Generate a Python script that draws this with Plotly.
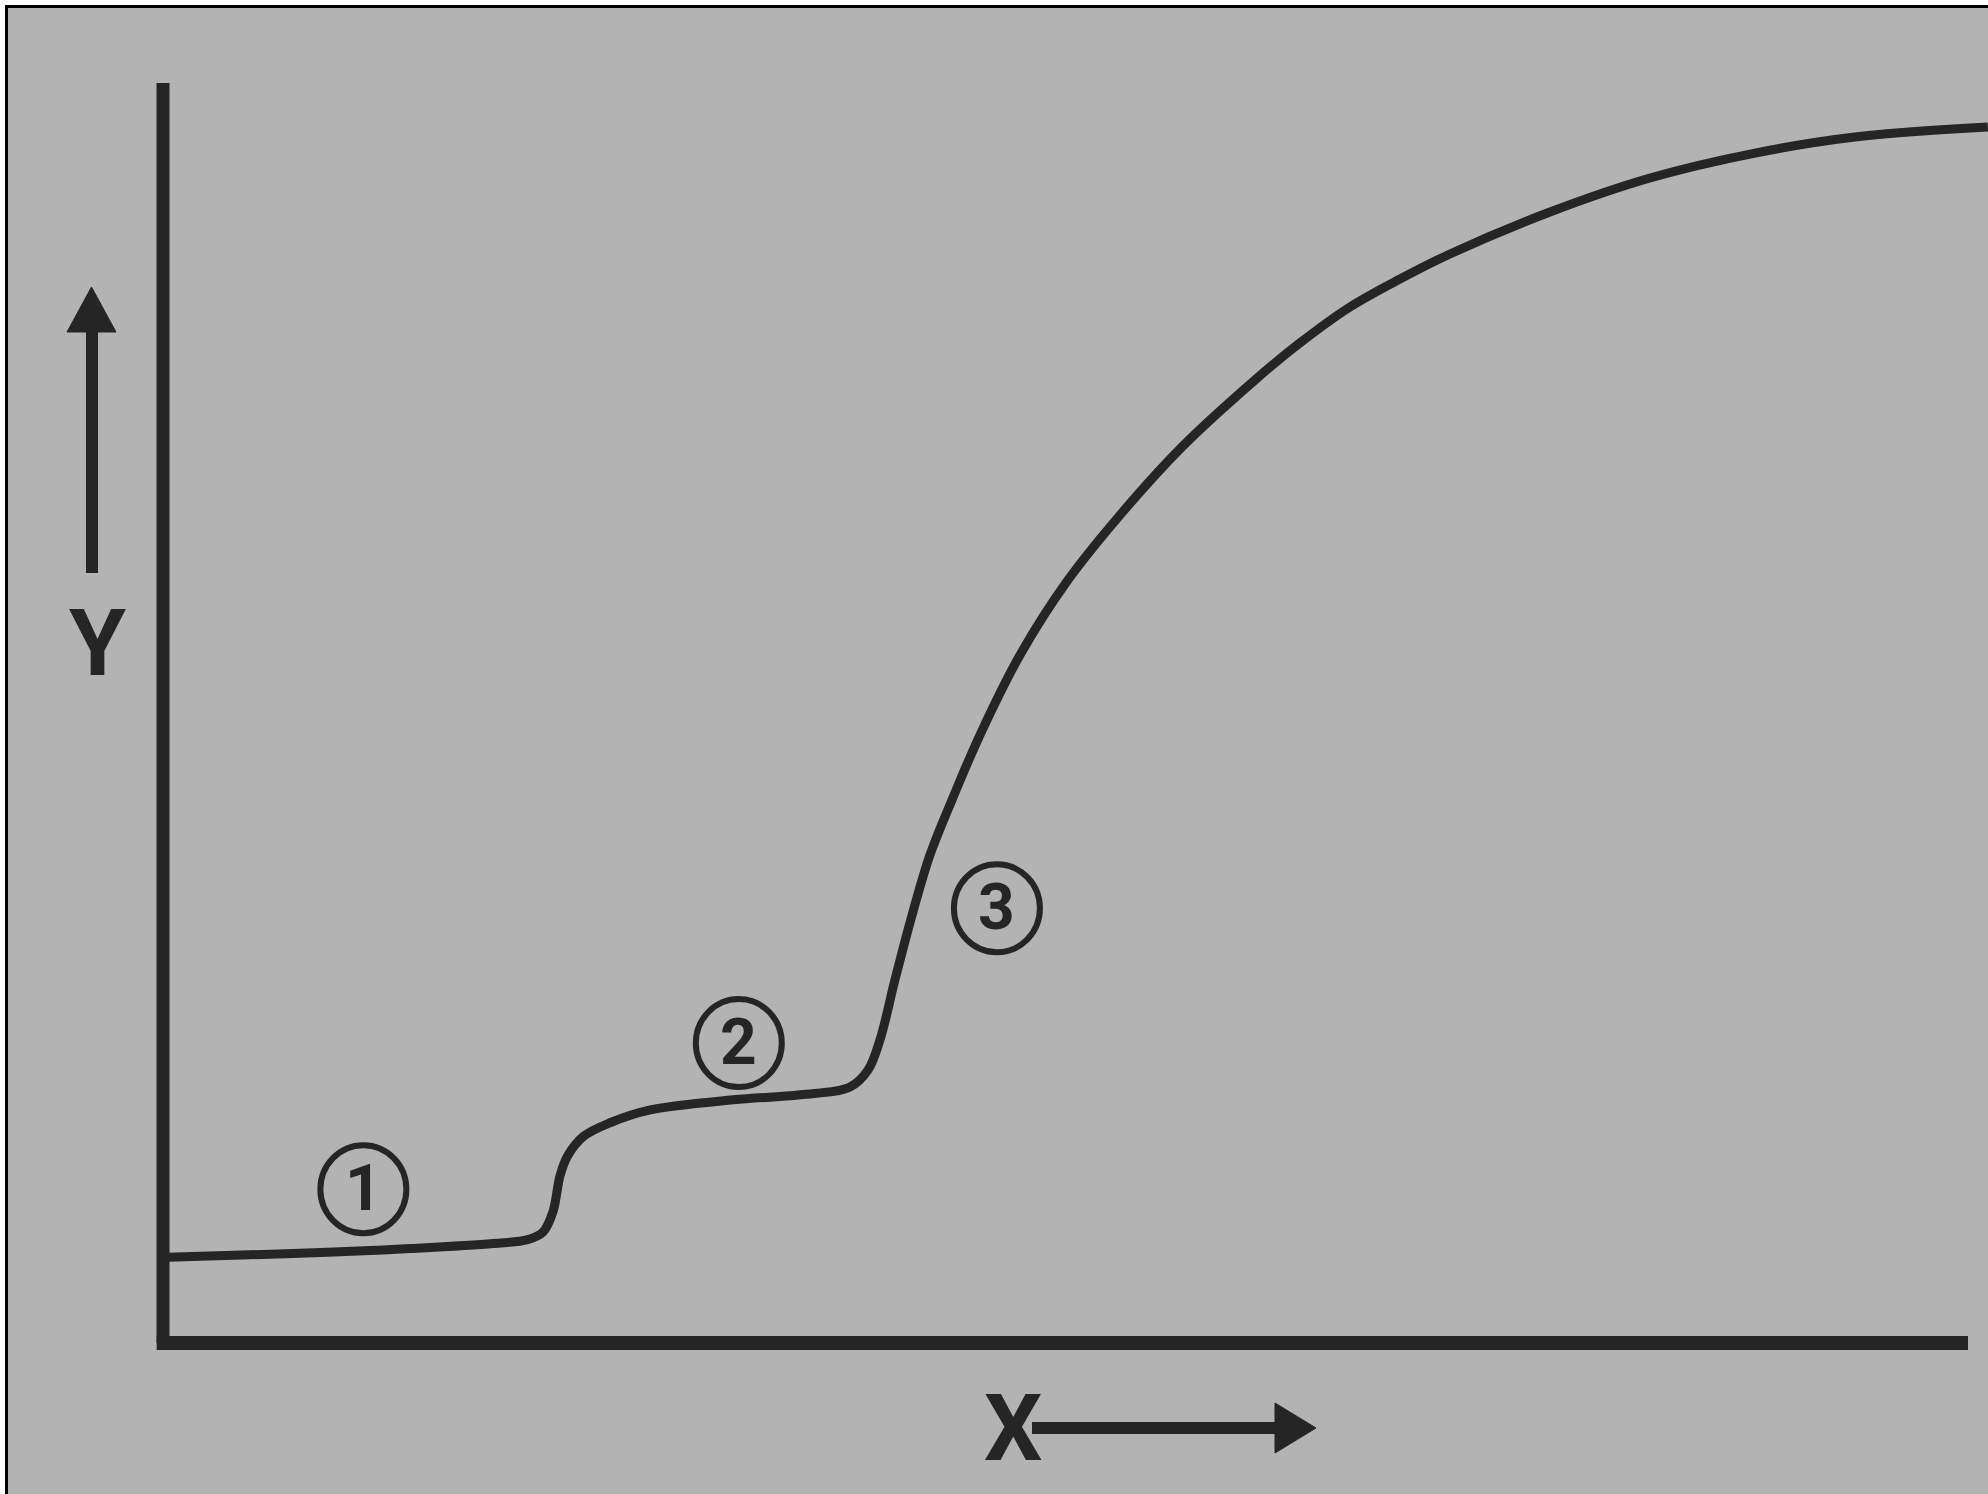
import plotly.graph_objects as go

W, H = 1988, 1494

# Curve data (x: 0 at Y-axis, 100 at end of X-axis; y: 0 at X-axis, 100 at top of Y-axis)
curve_x = [0.3, 4.8, 9.1, 13.7, 18.3, 20.2, 21.05, 21.6, 22.0, 22.4, 23.3, 24.8, 27.0, 31.6,
           35.3, 38.06, 39.06, 39.72, 40.55, 41.5, 42.49, 43.71, 45.26, 47.48, 50.14, 53.02,
           56.45, 60.5, 62.99, 65.76, 68.53, 71.3, 76.84, 82.38, 88.2, 93.74, 101.1]
curve_y = [6.8, 7.0, 7.2, 7.5, 7.9, 8.2, 8.8, 10.4, 13.3, 14.8, 16.4, 17.5, 18.5, 19.3,
           19.7, 20.32, 21.67, 24.05, 28.81, 33.97, 38.73, 43.1, 48.25, 54.6, 60.56, 65.71,
           71.11, 76.43, 79.37, 82.22, 84.44, 86.43, 89.76, 92.46, 94.44, 95.71, 96.5]

region_labels = ["1", "2", "3"]
region_x = [11.1, 31.9, 46.2]
region_y = [12.2, 23.8, 34.5]

axis_x_label = "X"
axis_y_label = "Y"

INK = "#252525"
BG = "#b3b3b3"
FONT = "Roboto, Liberation Sans, Arial, sans-serif"

# data <-> pixel mapping
X0_PX, X100_PX = 163, 1968
Y0_PX, Y100_PX = 1343, 83
sx = (X100_PX - X0_PX) / 100.0
sy = (Y0_PX - Y100_PX) / 100.0
x_range = [(0 - X0_PX) / sx, (W - X0_PX) / sx]
y_range = [(Y0_PX - H) / sy, (Y0_PX - 0) / sy]


def fx(px):
    return px / W


def fy(py):
    return 1 - py / H


fig = go.Figure()
fig.add_trace(go.Scatter(
    x=curve_x, y=curve_y, mode="lines",
    line=dict(color=INK, width=9, shape="spline", smoothing=1.0),
    hoverinfo="skip", showlegend=False, cliponaxis=False,
))

shapes = []
# frame of the scanned page
shapes.append(dict(type="rect", xref="paper", yref="paper",
                   x0=fx(6.5), y0=fy(6.5), x1=fx(W + 20), y1=fy(H + 20),
                   line=dict(color="#000000", width=3), fillcolor=BG, layer="below"))
# axes
shapes.append(dict(type="line", xref="x", yref="y", x0=0, y0=100, x1=0, y1=0,
                   line=dict(color=INK, width=13), layer="above"))
shapes.append(dict(type="line", xref="x", yref="y", x0=-0.35, y0=0, x1=100, y1=0,
                   line=dict(color=INK, width=14), layer="above"))
# circles around region numbers
for cx, cy in zip(region_x, region_y):
    shapes.append(dict(type="circle", xref="x", yref="y", xsizemode="pixel", ysizemode="pixel",
                       xanchor=cx, yanchor=cy, x0=-43, x1=43, y0=-44, y1=44,
                       line=dict(color=INK, width=6)))
# Y direction arrow
shapes.append(dict(type="line", xref="paper", yref="paper",
                   x0=fx(92), y0=fy(573), x1=fx(92), y1=fy(330),
                   line=dict(color=INK, width=12)))
shapes.append(dict(type="path", xref="paper", yref="paper",
                   path=f"M {fx(67)} {fy(332)} L {fx(116)} {fy(332)} L {fx(91.5)} {fy(287)} Z",
                   fillcolor=INK, line=dict(color=INK, width=1)))
# X direction arrow
shapes.append(dict(type="line", xref="paper", yref="paper",
                   x0=fx(1032), y0=fy(1428), x1=fx(1278), y1=fy(1428),
                   line=dict(color=INK, width=12)))
shapes.append(dict(type="path", xref="paper", yref="paper",
                   path=f"M {fx(1275)} {fy(1403)} L {fx(1275)} {fy(1453)} L {fx(1316)} {fy(1428)} Z",
                   fillcolor=INK, line=dict(color=INK, width=1)))

annotations = []
for t, cx, cy in zip(region_labels, region_x, region_y):
    annotations.append(dict(x=cx, y=cy, xref="x", yref="y", text=f"<b>{t}</b>", showarrow=False,
                            font=dict(family=FONT, size=64, color=INK),
                            xanchor="center", yanchor="middle", yshift=1))
annotations.append(dict(x=fx(1013), y=fy(1428), xref="paper", yref="paper",
                        text=f"<b>{axis_x_label}</b>",
                        showarrow=False, font=dict(family=FONT, size=92, color=INK),
                        xanchor="center", yanchor="middle"))
annotations.append(dict(x=fx(97), y=fy(643), xref="paper", yref="paper",
                        text=f"<b>{axis_y_label}</b>",
                        showarrow=False, font=dict(family=FONT, size=92, color=INK),
                        xanchor="center", yanchor="middle"))

fig.update_layout(
    width=W, height=H,
    margin=dict(l=0, r=0, t=0, b=0),
    paper_bgcolor="#ffffff",
    plot_bgcolor="rgba(0,0,0,0)",
    xaxis=dict(range=x_range, visible=False, fixedrange=True),
    yaxis=dict(range=y_range, visible=False, fixedrange=True),
    shapes=shapes,
    annotations=annotations,
    showlegend=False,
)

fig.write_html(
    "out.html",
    config={"displayModeBar": False},
    post_script="document.body.style.margin='0';document.body.style.padding='0';"
                "document.documentElement.style.overflow='hidden';",
)
